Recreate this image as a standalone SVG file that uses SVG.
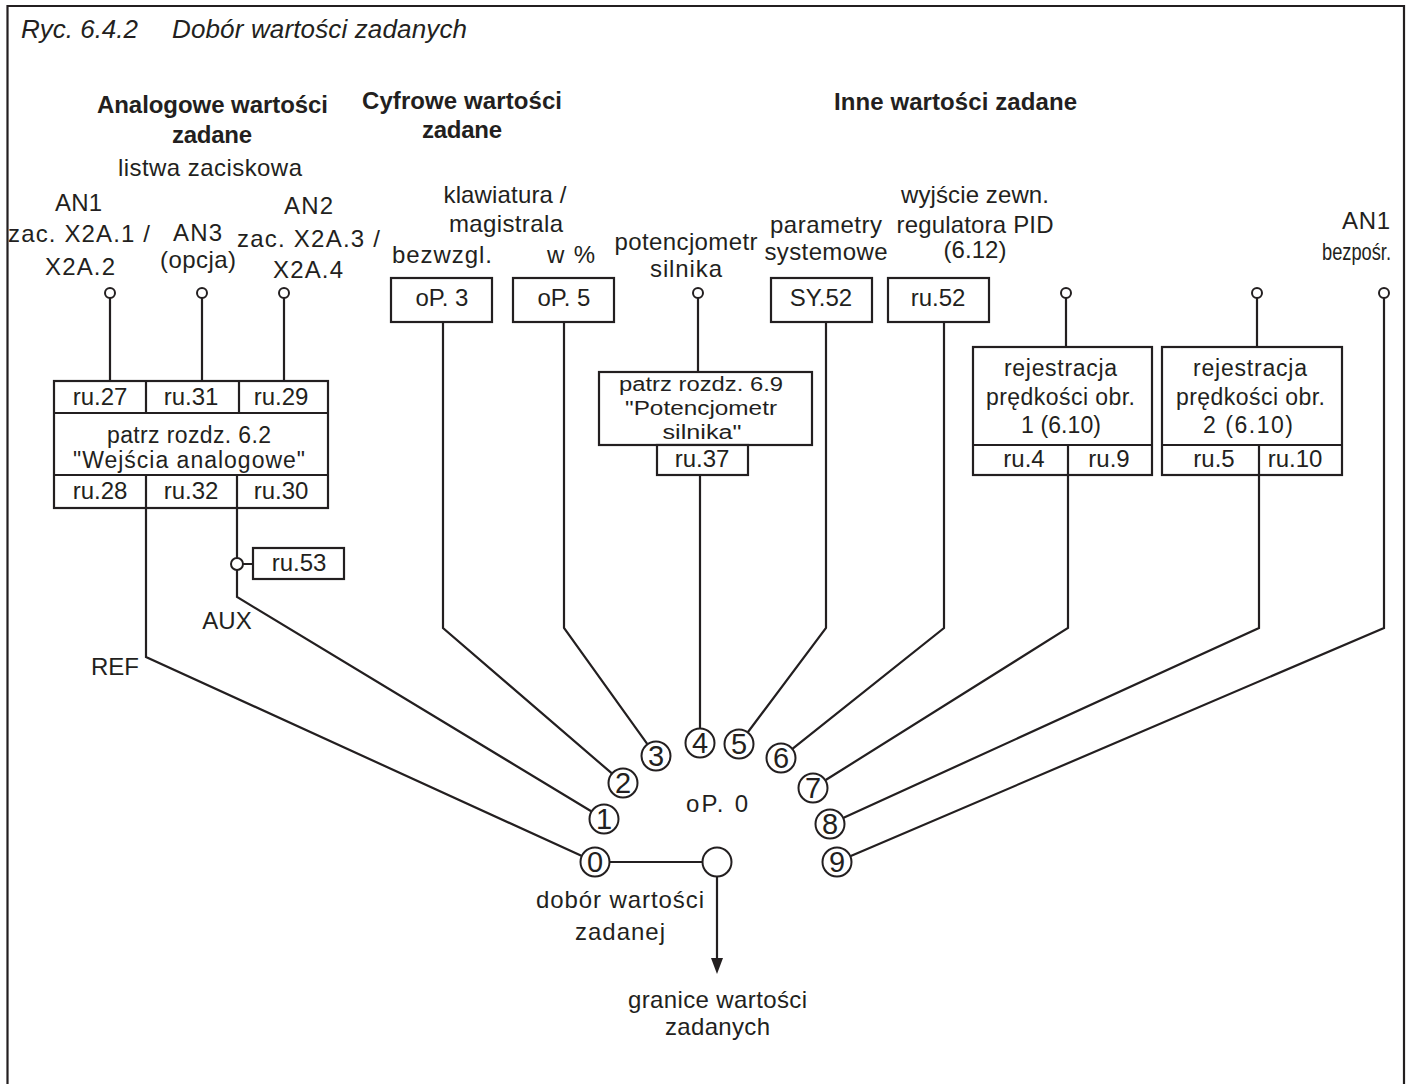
<svg xmlns="http://www.w3.org/2000/svg" width="1411" height="1084" viewBox="0 0 1411 1084">
<style>
text{font-family:"Liberation Sans",Arial,Helvetica,sans-serif;fill:#231f20;font-size:24px}
.m{text-anchor:middle}
.e{text-anchor:end}
.b{font-weight:bold;font-size:24px}
.t{font-style:italic;font-size:26px}
.r{font-size:24px;text-anchor:middle}
.s{font-size:23px;text-anchor:middle}
.p{font-size:20px;text-anchor:middle}
.d{font-size:29px;text-anchor:middle}
.bx{fill:#fff;stroke:#231f20;stroke-width:2.2}
.ln{fill:none;stroke:#231f20;stroke-width:2.2}
.tc{fill:#fff;stroke:#231f20;stroke-width:2}
.cc{fill:#fff;stroke:#231f20;stroke-width:2}
</style>
<rect width="1411" height="1084" fill="#fff"/>
<path class="ln" d="M7.5,1084 V6 H1404 V1084"/>
<g id="title">
<text class="t" x="21" y="38" textLength="117">Ryc. 6.4.2</text>
<text class="t" x="172" y="38" textLength="295">Dobór wartości zadanych</text>
</g>
<g id="headers">
<text class="b m" x="212.5" y="113" textLength="231">Analogowe wartości</text>
<text class="b m" x="212" y="143" textLength="80">zadane</text>
<text class="b m" x="462" y="109" textLength="200">Cyfrowe wartości</text>
<text class="b m" x="462" y="138" textLength="80">zadane</text>
<text class="b m" x="955.5" y="110" textLength="243">Inne wartości zadane</text>
<text class="m" x="210" y="176" font-size="23" textLength="184">listwa  zaciskowa</text>
</g>
<g id="connectors">
<path class="ln" d="M110,298 V381 M202,298 V381 M284,298 V381"/>
<path class="ln" d="M146,508 V657 L581.4,855.8"/>
<path class="ln" d="M237,508 V558 M237,570 V597 L591.2,811.2 M243,564 H253"/>
<path class="ln" d="M443,322 V628 L611.6,773.2"/>
<path class="ln" d="M564,322 V628 L647.2,743.8"/>
<path class="ln" d="M698,298 V372 M700,475 V728"/>
<path class="ln" d="M826,322 V628 L748,732"/>
<path class="ln" d="M944,322 V628 L792.7,748.6"/>
<path class="ln" d="M1066,298 V347 M1068,475 V628 L825.7,780"/>
<path class="ln" d="M1257,298 V347 M1259,475 V628 L843.6,817.8"/>
<path class="ln" d="M1384,298 V628 L850.8,856.1"/>
<path class="ln" d="M610,862 H703 M717,876 V960"/>
<polygon points="711,958 723,958 717,974" fill="#231f20"/>
</g>
<g id="analog-inputs">
<text class="m" x="78.5" y="211" textLength="47">AN1</text>
<text class="m" x="79" y="242" textLength="142">zac. X2A.1 /</text>
<text class="m" x="80" y="275" textLength="70">X2A.2</text>
<text class="m" x="197.5" y="241" textLength="49">AN3</text>
<text class="m" x="198" y="268" textLength="76">(opcja)</text>
<text class="m" x="308.5" y="214" textLength="49">AN2</text>
<text class="m" x="308.5" y="247" textLength="143">zac. X2A.3 /</text>
<text class="m" x="308" y="278" textLength="70">X2A.4</text>
<circle class="tc" cx="110" cy="293" r="5"/>
<circle class="tc" cx="202" cy="293" r="5"/>
<circle class="tc" cx="284" cy="293" r="5"/>
</g>
<g id="analog-box">
<rect class="bx" x="54" y="381" width="274" height="127"/>
<path class="ln" d="M54,413 H328 M54,475 H328 M146,381 V413 M239,381 V413 M146,475 V508 M237,475 V508"/>
<text class="r" x="100" y="405">ru.27</text>
<text class="r" x="191" y="405">ru.31</text>
<text class="r" x="281" y="405">ru.29</text>
<text class="s" x="189" y="443" textLength="164">patrz rozdz. 6.2</text>
<text class="s" x="189" y="468" textLength="232">"Wejścia  analogowe"</text>
<text class="r" x="100" y="499">ru.28</text>
<text class="r" x="191" y="499">ru.32</text>
<text class="r" x="281" y="499">ru.30</text>
</g>
<g id="aux-switch">
<circle class="tc" cx="237" cy="564" r="6"/>
<rect class="bx" x="253" y="548" width="91" height="31"/>
<text class="r" x="299" y="571">ru.53</text>
<text class="m" x="227" y="629" font-size="22">AUX</text>
<text class="m" x="115" y="675" font-size="22">REF</text>
</g>
<g id="digital">
<text class="m" x="505" y="203" font-size="23" textLength="123">klawiatura /</text>
<text class="m" x="506" y="232" font-size="23" textLength="114">magistrala</text>
<text class="m" x="442" y="263" textLength="100">bezwzgl.</text>
<text class="m" x="571" y="263" textLength="48">w %</text>
<rect class="bx" x="391" y="278" width="101" height="44"/>
<text class="r" x="442" y="306">oP. 3</text>
<rect class="bx" x="513" y="278" width="101" height="44"/>
<text class="r" x="564" y="306">oP. 5</text>
</g>
<g id="motor-pot">
<text class="m" x="686" y="250" textLength="143">potencjometr</text>
<text class="m" x="686" y="277" textLength="72">silnika</text>
<circle class="tc" cx="698" cy="293" r="5"/>
<rect class="bx" x="599" y="372" width="213" height="73"/>
<text class="p" x="701" y="391" textLength="164" lengthAdjust="spacingAndGlyphs">patrz rozdz. 6.9</text>
<text class="p" x="701" y="415" textLength="152" lengthAdjust="spacingAndGlyphs">"Potencjometr</text>
<text class="p" x="702" y="439" textLength="79" lengthAdjust="spacingAndGlyphs">silnika"</text>
<rect class="bx" x="657" y="445" width="91" height="30"/>
<text class="r" x="702" y="467">ru.37</text>
</g>
<g id="system-params">
<text class="m" x="826" y="233" textLength="112">parametry</text>
<text class="m" x="826" y="260" textLength="123">systemowe</text>
<rect class="bx" x="771" y="278" width="101" height="44"/>
<text class="r" x="821" y="306">SY.52</text>
</g>
<g id="pid">
<text class="m" x="975" y="203" textLength="148">wyjście zewn.</text>
<text class="m" x="975" y="233" textLength="157">regulatora PID</text>
<text class="m" x="975" y="258" textLength="63">(6.12)</text>
<rect class="bx" x="888" y="278" width="101" height="44"/>
<text class="r" x="938" y="306">ru.52</text>
</g>
<g id="speed-rec-1">
<circle class="tc" cx="1066" cy="293" r="5"/>
<rect class="bx" x="973" y="347" width="179" height="128"/>
<path class="ln" d="M973,445 H1152 M1068,445 V475"/>
<text class="s" x="1060.5" y="376" textLength="113">rejestracja</text>
<text class="s" x="1060.5" y="405" textLength="149">prędkości obr.</text>
<text class="s" x="1061" y="433" textLength="80">1 (6.10)</text>
<text class="r" x="1024" y="467">ru.4</text>
<text class="r" x="1109" y="467">ru.9</text>
</g>
<g id="speed-rec-2">
<circle class="tc" cx="1257" cy="293" r="5"/>
<rect class="bx" x="1162" y="347" width="180" height="128"/>
<path class="ln" d="M1162,445 H1342 M1259,445 V475"/>
<text class="s" x="1250" y="376" textLength="114">rejestracja</text>
<text class="s" x="1250.5" y="405" textLength="149">prędkości obr.</text>
<text class="s" x="1248" y="433" textLength="90">2 (6.10)</text>
<text class="r" x="1214" y="467">ru.5</text>
<text class="r" x="1295" y="467">ru.10</text>
</g>
<g id="an1-direct">
<text class="e" x="1390" y="229" textLength="48">AN1</text>
<text class="e" x="1391" y="260" textLength="69" lengthAdjust="spacingAndGlyphs">bezpośr.</text>
<circle class="tc" cx="1384" cy="293" r="5"/>
</g>
<g id="selector">
<circle class="cc" cx="595" cy="862" r="14.5"/><text class="d" x="595" y="872">0</text>
<circle class="cc" cx="604" cy="819" r="14.5"/><text class="d" x="604" y="829">1</text>
<circle class="cc" cx="623" cy="783" r="14.5"/><text class="d" x="623" y="793">2</text>
<circle class="cc" cx="656" cy="756" r="14.5"/><text class="d" x="656" y="766">3</text>
<circle class="cc" cx="700" cy="743" r="14.5"/><text class="d" x="700" y="753">4</text>
<circle class="cc" cx="739" cy="744" r="14.5"/><text class="d" x="739" y="754">5</text>
<circle class="cc" cx="781" cy="758" r="14.5"/><text class="d" x="781" y="768">6</text>
<circle class="cc" cx="813" cy="788" r="14.5"/><text class="d" x="813" y="798">7</text>
<circle class="cc" cx="830" cy="824" r="14.5"/><text class="d" x="830" y="834">8</text>
<circle class="cc" cx="837" cy="862" r="14.5"/><text class="d" x="837" y="872">9</text>
<text class="m" x="717" y="812" font-size="25" textLength="62">oP. 0</text>
<circle class="cc" cx="717" cy="862" r="14.5"/>
<text class="m" x="620" y="908" font-size="25" textLength="168">dobór wartości</text>
<text class="m" x="620" y="940" font-size="25" textLength="90">zadanej</text>
</g>
<g id="output">
<text class="m" x="717.5" y="1008" textLength="179">granice  wartości</text>
<text class="m" x="717.5" y="1035" textLength="105">zadanych</text>
</g>
</svg>
